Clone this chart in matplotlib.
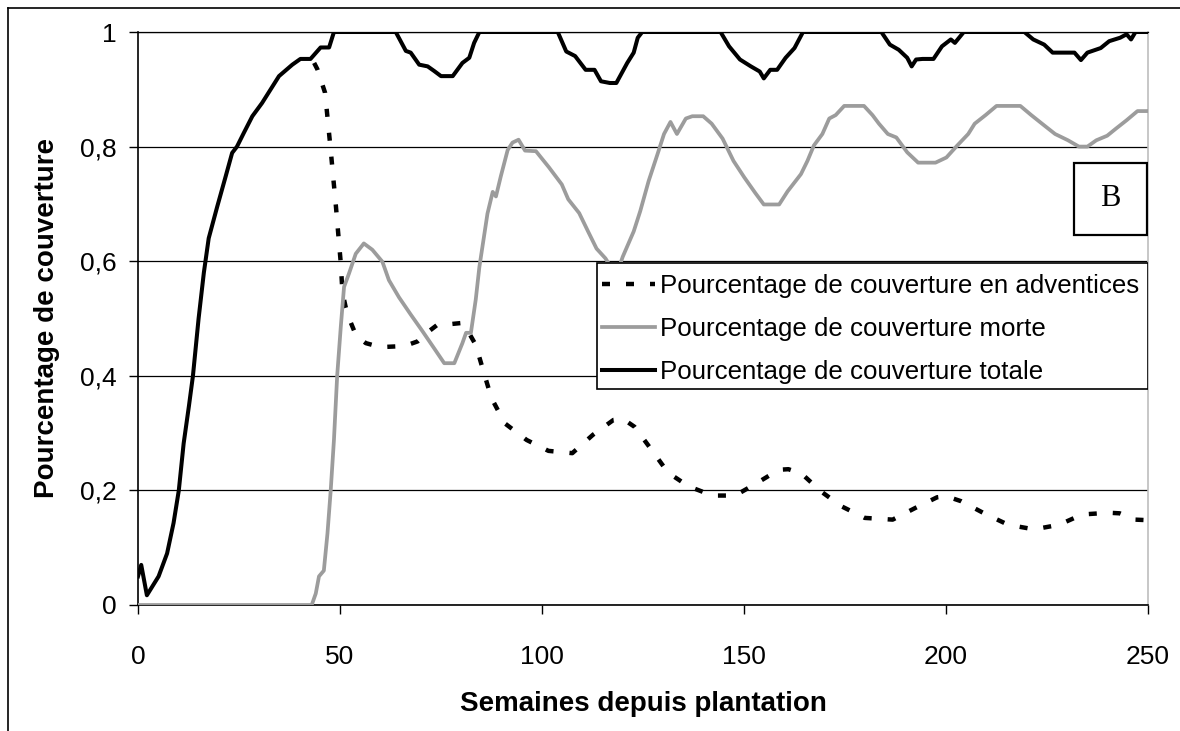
import matplotlib
matplotlib.use('agg')
import matplotlib.pyplot as plt
from matplotlib.lines import Line2D
from matplotlib.patches import Rectangle
import matplotlib.ticker as mticker

plt.rcParams['font.family'] = ['Liberation Sans', 'DejaVu Sans']

# ---- data (semaines, fraction de couverture) ----
t_tot = [0, 0.8, 2.2, 5.1, 7.2, 8.8, 10.1, 11.3, 12.6, 13.6, 15.0, 16.3, 17.5, 19.6, 21.7,
         23.3, 24.5, 26.2, 28.3, 30.7, 34.9, 38.2, 40.2, 42.7, 45.2, 47.3, 48.5,
         63.8, 66.3, 67.5, 69.6, 71.7, 73.3, 75.0, 77.9, 80.3, 82.0, 83.2, 84.5,
         103.9, 106.0, 108.2, 110.8, 113.0, 114.6, 116.8, 118.4, 121.1, 122.7, 123.7, 124.8,
         144.2, 146.3, 149.0, 151.7, 153.9, 154.9, 156.5, 158.2, 160.3, 162.5, 164.6,
         184.0, 186.1, 188.3, 190.4, 191.5, 192.6, 194.2, 196.9, 199.0, 201.2, 202.2, 204.4,
         219.4, 221.6, 224.3, 226.4, 231.8, 233.4, 235.0, 238.3, 240.4, 243.1, 244.7,
         245.8, 246.9, 250]
v_tot = [0.05, 0.07, 0.017, 0.05, 0.09, 0.143, 0.2, 0.282, 0.347, 0.4, 0.5, 0.58, 0.64, 0.695, 0.748,
         0.789, 0.8, 0.824, 0.853, 0.876, 0.923, 0.943, 0.953, 0.953, 0.973, 0.973, 1.0,
         1.0, 0.967, 0.964, 0.943, 0.94, 0.932, 0.923, 0.923, 0.946, 0.955, 0.981, 1.0,
         1.0, 0.966, 0.958, 0.934, 0.934, 0.914, 0.911, 0.911, 0.946, 0.964, 0.99, 1.0,
         1.0, 0.975, 0.952, 0.94, 0.931, 0.919, 0.934, 0.934, 0.955, 0.972, 1.0,
         1.0, 0.978, 0.969, 0.955, 0.94, 0.952, 0.953, 0.953, 0.975, 0.987, 0.981, 1.0,
         1.0, 0.987, 0.978, 0.964, 0.964, 0.951, 0.964, 0.972, 0.984, 0.99, 0.996,
         0.987, 1.0, 1.0]

t_morte = [0, 43, 44, 44.8, 46, 46.9, 47.7, 48.5, 49.3, 50.2, 51, 52.2, 53.9, 55.9, 58, 60.5,
           62.1, 64.6, 67.5, 70.4, 73.3, 75.8, 78.3, 80.3, 81.2, 82.4, 83.6, 84.5, 86.5,
           87.8, 88.6, 89.8, 91.5, 92.7, 94.2, 95.8, 98.5, 101.7, 104.9, 106.5, 109.2,
           111.4, 113.5, 115.7, 117.5, 119, 120, 122.7, 124.3, 126.4, 128.6, 130.2, 131.8,
           133.4, 135.6, 137.2, 139.9, 142, 144.7, 147.4, 150.1, 152.8, 154.9, 158.7,
           160.8, 164.1, 165.7, 167.3, 169.4, 171.1, 172.7, 174.8, 179.7, 181.8, 183.4,
           185.6, 187.7, 190.4, 193.1, 197.4, 200.1, 202.8, 205.5, 207.1, 209.8, 212.5,
           218.4, 221.1, 224.3, 227, 230.2, 232.9, 235, 237.2, 239.9, 242, 244.7, 247.4, 250]
v_morte = [0, 0, 0.02, 0.05, 0.06, 0.125, 0.2, 0.288, 0.4, 0.486, 0.555, 0.578, 0.613, 0.631,
           0.62, 0.599, 0.567, 0.537, 0.507, 0.478, 0.448, 0.422, 0.422, 0.457, 0.475, 0.475,
           0.533, 0.59, 0.683, 0.721, 0.713, 0.748, 0.794, 0.807, 0.812, 0.793, 0.792, 0.764,
           0.734, 0.708, 0.684, 0.652, 0.622, 0.605, 0.585, 0.588, 0.608, 0.652, 0.687, 0.74,
           0.787, 0.822, 0.843, 0.822, 0.849, 0.853, 0.853, 0.84, 0.814, 0.775, 0.746, 0.719,
           0.699, 0.699, 0.722, 0.752, 0.775, 0.802, 0.822, 0.849, 0.855, 0.871, 0.871, 0.855,
           0.84, 0.822, 0.816, 0.79, 0.772, 0.772, 0.781, 0.802, 0.822, 0.84, 0.855, 0.871,
           0.871, 0.855, 0.837, 0.822, 0.811, 0.8, 0.8, 0.811, 0.819, 0.831, 0.846, 0.862, 0.862]

t_adv = [43.6, 44.4, 46.3, 47, 47.7, 48.3, 49, 49.6, 50.2, 50.6, 51.4, 52.2, 54, 56.4, 60, 63,
         66, 69.2, 71.5, 74.1, 77, 79.9, 81.5, 83.6, 85.5, 87.5, 90.8, 96.2, 101.6, 107.5,
         112.6, 117.7, 120, 122.9, 127.1, 131.2, 136.3, 142.2, 147.8, 153, 158.6, 161, 164.3,
         169.1, 174.2, 179.9, 186.8, 192.3, 197.8, 200, 203.8, 209.7, 215.4, 221.8, 228,
         233.7, 240.3, 243, 246.8, 250]
v_adv = [0.946, 0.935, 0.894, 0.844, 0.794, 0.748, 0.695, 0.645, 0.596, 0.546, 0.52, 0.501,
         0.47, 0.457, 0.45, 0.451, 0.452, 0.46, 0.475, 0.489, 0.49, 0.492, 0.48, 0.454, 0.408,
         0.361, 0.317, 0.288, 0.269, 0.265, 0.297, 0.323, 0.325, 0.311, 0.271, 0.231, 0.207,
         0.191, 0.191, 0.212, 0.236, 0.237, 0.229, 0.198, 0.172, 0.152, 0.149, 0.169, 0.188,
         0.19, 0.181, 0.159, 0.140, 0.132, 0.140, 0.158, 0.161, 0.16, 0.149, 0.148]

xticks = [0, 50, 100, 150, 200, 250]
yticks = [0, 0.2, 0.4, 0.6, 0.8, 1.0]
ytick_labels = ['0', '0,2', '0,4', '0,6', '0,8', '1']

W, H = 1180, 731
fig = plt.figure(figsize=(W / 100, H / 100), dpi=100)
ax = fig.add_axes([138 / W, 1 - 605 / H, (1148 - 138) / W, (605 - 32) / H])

ax.plot(t_adv, v_adv, color='black', lw=3.2, linestyle=(0, (1.8, 3.6)),
        dash_capstyle='butt',
        label='Pourcentage de couverture en adventices', zorder=3)
ax.plot(t_morte, v_morte, color='#9c9c9c', lw=2.7,
        label='Pourcentage de couverture morte', zorder=4)
ax.plot(t_tot, v_tot, color='black', lw=2.9,
        label='Pourcentage de couverture totale', zorder=5)

ax.set_xlim(0, 250)
ax.set_ylim(0, 1)
ax.xaxis.set_major_locator(mticker.FixedLocator(xticks))
ax.set_yticks(yticks)
ax.set_yticklabels(ytick_labels)
ax.tick_params(direction='out', length=6.5, width=1, labelsize=19, pad=9)
ax.tick_params(axis='x', pad=22)
ax.yaxis.grid(True, color='black', lw=0.9)
ax.set_axisbelow(True)

for side in ['left', 'bottom']:
    ax.spines[side].set_color('black')
    ax.spines[side].set_linewidth(1.2)
ax.spines['top'].set_color('black')
ax.spines['top'].set_linewidth(0.9)
ax.spines['right'].set_color('#bdbdbd')
ax.spines['right'].set_linewidth(1.2)

ax.set_xlabel('Semaines depuis plantation', fontsize=20, fontweight='bold', labelpad=16)
ax.set_ylabel('Pourcentage de couverture', fontsize=20, fontweight='bold', labelpad=14)

# cadre de la legende, dessine a part
ax.add_patch(Rectangle((597 / W, 1 - 389 / H), 551 / W, 126 / H, transform=fig.transFigure,
                       facecolor='white', edgecolor='black', lw=1.2, zorder=9))
leg = ax.legend(loc='upper left', bbox_to_anchor=(602 / W, 1 - 274 / H),
                bbox_transform=fig.transFigure, fontsize=18.6, frameon=False,
                borderaxespad=0, borderpad=0,
                handlelength=2.05, handletextpad=0.18, labelspacing=0.74)
leg.set_zorder(10)

# boite "B"
ax.add_patch(Rectangle((1074 / W, 1 - 235 / H), 73 / W, 72 / H, transform=fig.transFigure,
                       facecolor='white', edgecolor='black', lw=1.6, zorder=6))
fig.text(1110 / W, 1 - 199 / H, 'B', fontsize=22, family='Liberation Serif',
         ha='center', va='center', zorder=7)

# cadre exterieur
fig.add_artist(Line2D([8 / W, 1], [1 - 8 / H, 1 - 8 / H], color='black', lw=1.2))
fig.add_artist(Line2D([8 / W, 8 / W], [0, 1 - 8 / H], color='black', lw=1.2))

fig.savefig('out.png', dpi=100)
